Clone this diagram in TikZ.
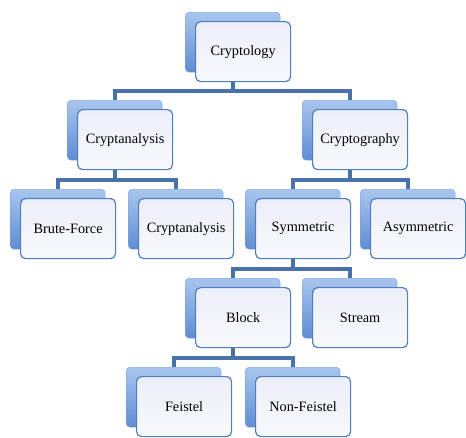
\documentclass[tikz,border=0pt]{standalone}
\usepackage{fontspec}
\setmainfont{Liberation Serif}
\usepackage{tikz}
\usetikzlibrary{math}
\usetikzlibrary{calc}
\usetikzlibrary{backgrounds}
\definecolor{cback}{HTML}{5E8DD2}
\definecolor{cbacktop}{HTML}{A8C5EE}
\definecolor{cbackline}{HTML}{7FA3D8}
\definecolor{cedge}{HTML}{4F7DC0}
\definecolor{cfront}{HTML}{F8F9FD}
\definecolor{cfronttop}{HTML}{ECEFF9}
\definecolor{clink}{HTML}{4A72AA}

\begin{document}
\begin{tikzpicture}[x=1pt, y=-1pt,
    backbox/.style={anchor=north west, minimum width=95pt, minimum height=60pt, inner sep=0pt,
      rounded corners=4pt, draw=cbackline, top color=cbacktop, bottom color=cback},
    frontbox/.style={anchor=north west, minimum width=95pt, minimum height=60pt, inner sep=0pt,
      rounded corners=5pt, draw=cedge, line width=1.2pt, top color=cfronttop, bottom color=cfront,
      font=\fontsize{14.3}{16}\selectfont},
    link/.style={line width=4pt, draw=clink}]
  \tikzmath{
    \dx = 10;
    \dy = 9;
  }
  \useasboundingbox (0,0) rectangle (466,437);

  % boxes: back plate, then front card
  \foreach \n/\x/\y/\txt in {crypto/185/12/Cryptology,
      analysis/67/100/Cryptanalysis, graphy/302/100/Cryptography,
      brute/10/189/Brute-Force, analysistwo/128/189/Cryptanalysis,
      sym/245/189/Symmetric, asym/360/189/Asymmetric,
      block/185/278/Block, stream/302/278/Stream,
      feistel/126/367/Feistel, nonfeistel/245/367/Non-Feistel} {
    \node [backbox] (\n-b) at (\x, \y) {};
    \node [frontbox] (\n) at ([shift={(\dx,\dy)}]\n-b.north west) {\txt};
  }

  % tree links
  \begin{scope}[on background layer]
    \foreach \p/\c in {crypto/analysis, crypto/graphy,
        analysis/brute, analysis/analysistwo,
        graphy/sym, graphy/asym,
        sym/block, sym/stream,
        block/feistel, block/nonfeistel}
      \draw [link] (\p-b.center) |- ($(\p.south)!0.5!(\c-b.north)$) -| (\c-b.center);
  \end{scope}
\end{tikzpicture}
\end{document}
